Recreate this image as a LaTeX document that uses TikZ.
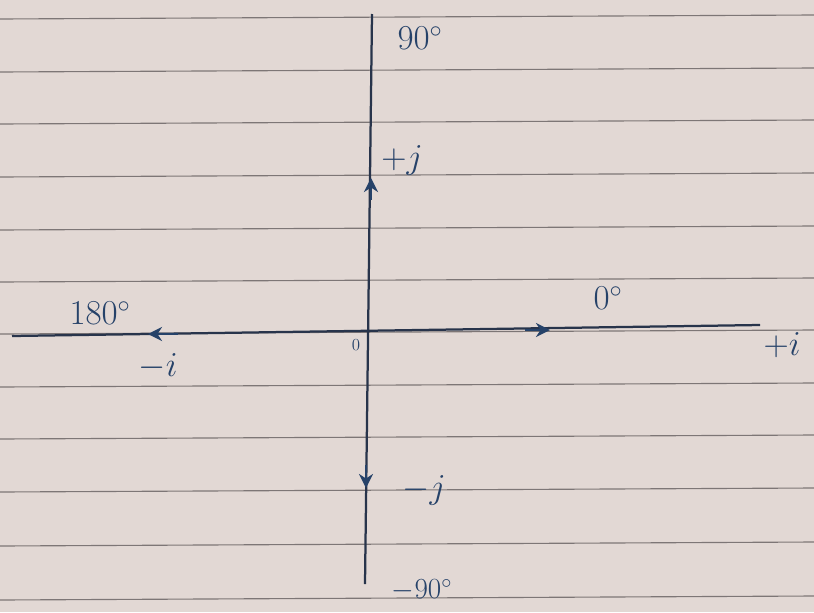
\documentclass[tikz,border=0pt]{standalone}
\usetikzlibrary{arrows.meta}
\definecolor{paper}{RGB}{226,216,212}
\definecolor{rule}{RGB}{125,118,118}
\definecolor{ink}{RGB}{38,66,105}
\definecolor{inkdark}{RGB}{40,52,75}
\tikzset{
  ruleline/.style={draw=rule, line width=0.8pt},
  axisline/.style={draw=inkdark, line width=1.6pt},
  tip/.style={draw=ink, line width=1.6pt, -{Stealth[length=10pt,width=10pt]}},
  lbl/.style={text=ink, font=\fontsize{24}{28}\selectfont, inner sep=1pt},
}
\begin{document}
\begin{tikzpicture}[x=0.025cm,y=-0.025cm]
\fill[paper] (0,0) rectangle (814,612);
\useasboundingbox (0,0) rectangle (814,612);
% ruled lines
\foreach \y in {17,70,122,175,228,280,332,385,437,490,544,598}
  \draw[ruleline] (0,\y+2) -- (814,\y-2);
% axes
\coordinate (top) at (372,14);
\coordinate (bot) at (365,584);
\coordinate (left) at (12,336);
\coordinate (right) at (760,325);
\draw[axisline] (top) -- (bot);
\draw[axisline] (left) -- (right);
% arrow marks
\coordinate (ua) at (371,200); \coordinate (ub) at (371,178);
\coordinate (da) at (366,465); \coordinate (db) at (366,488);
\coordinate (ra) at (525,330); \coordinate (rb) at (550,330);
\coordinate (la) at (178,334); \coordinate (lb) at (148,334);
\draw[tip] (ua) -- (ub);
\draw[tip] (da) -- (db);
\draw[tip] (ra) -- (rb);
\draw[tip] (la) -- (lb);
% labels
\node[lbl] (n90) at (420,38) {$90^\circ$};
\node[lbl] (pj) at (402,160) {$+j$};
\node[lbl] (n180) at (100,313) {$180^\circ$};
\node[lbl] (mi) at (158,366) {$-i$};
\node[lbl] (n0) at (608,298) {$0^\circ$};
\node[lbl] (pi) at (782,345) {$+i$};
\node[lbl, font=\large] (org) at (356,345) {$0$};
\node[lbl] (mj) at (424,490) {$-j$};
\node[lbl, font=\fontsize{21}{24}\selectfont] (n90m) at (422,590) {$-90^\circ$};
\end{tikzpicture}
\end{document}
